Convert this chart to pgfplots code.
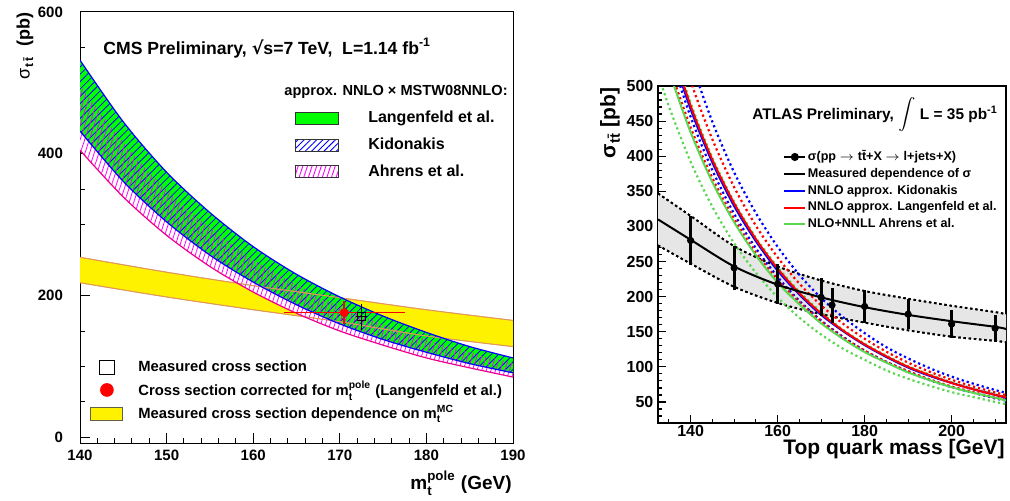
\documentclass[border=0pt]{standalone}
\usepackage{pgfplots}
\pgfplotsset{compat=1.18}
\usepgfplotslibrary{fillbetween}
\usetikzlibrary{patterns.meta}
\usepackage{amsmath}
\usepackage{fontspec}
\setmainfont{Liberation Sans}
\newfontfamily\sym{DejaVu Sans}
\definecolor{rgreen}{RGB}{0,255,0}
\definecolor{agreen}{RGB}{90,215,80}
\definecolor{yedge}{RGB}{225,150,90}
\definecolor{bandgray}{RGB}{230,230,230}
\newcommand\fsz[1]{\fontsize{#1}{#1}\selectfont}
\begin{document}
\begin{tikzpicture}

%================ LEFT PANEL =================
\begin{axis}[
 at={(40pt,28.5pt)}, anchor=south west, scale only axis,
 width=216.5pt, height=215.5pt,
 xmin=140, xmax=190, ymin=-8, ymax=600,
 xtick={140,150,...,190}, ytick={0,200,400,600},
 minor xtick={142,144,...,188}, minor ytick={50,100,150,250,300,350,450,500,550},
 xtick pos=bottom, ytick pos=left, tick align=inside,
 major tick length=5pt, minor tick length=2.5pt,
 tick style={black, line width=0.5pt},
 axis line style={line width=0.5pt},
 tick label style={font=\fsz{7.5}\bfseries},
 yticklabel style={xshift=-5pt},
 /pgf/number format/assume math mode=true,
 legend style={at={(0.023,0.197)}, anchor=north west, draw=none, fill=none,
   font=\fontsize{7.4}{8.4}\selectfont\bfseries, row sep=1.5pt, column sep=6.5pt, inner sep=0pt,
   nodes={inner sep=1pt}},
 legend cell align=left,
]
% yellow band
\addplot[name path=yU, draw=yedge, line width=0.4pt, smooth, forget plot] coordinates {(140,254)(150,233)(160,214)(170,197)(180,180)(190,165)};
\addplot[name path=yL, draw=yedge, line width=0.4pt, smooth, forget plot] coordinates {(140,218)(150,198)(160,180)(170,163)(180,143)(190,128)};
\addplot[fill=yellow, draw=none, forget plot] fill between[of=yU and yL];
\addplot[draw=yedge, line width=0.4pt, smooth, forget plot] coordinates {(140,254)(150,233)(160,214)(170,197)(180,180)(190,165)};
\addplot[draw=yedge, line width=0.4pt, smooth, forget plot] coordinates {(140,218)(150,198)(160,180)(170,163)(180,143)(190,128)};
% theory band edges
\addplot[name path=aU, draw=none, smooth, forget plot] coordinates {(140,497)(145,416)(150,349)(155,296)(160,251)(165,215)(170,185)(175,159)(180,138)(185,120)(190,105)};
\addplot[name path=aL, draw=none, smooth, forget plot] coordinates {(140,405)(145,339)(150,285)(155,241)(160,205)(165,175)(170,150)(175,130)(180,112)(185,98)(190,85)};
\addplot[name path=gU, draw=none, smooth, forget plot] coordinates {(140,532)(145,445)(150,374)(155,317)(160,269)(165,230)(170,198)(175,171)(180,148)(185,128)(190,112)};
\addplot[name path=gL, draw=none, smooth, forget plot] coordinates {(140,432)(145,361)(150,304)(155,257)(160,219)(165,187)(170,160)(175,138)(180,120)(185,104)(190,91)};
\addplot[fill=white, draw=none, forget plot] fill between[of=aU and aL];
\addplot[fill=rgreen, draw=none, forget plot] fill between[of=gU and gL];
\addplot[pattern={Lines[angle=45,distance=2.6pt,line width=0.4pt]}, pattern color=blue, draw=none, forget plot] fill between[of=gU and gL];
\addplot[pattern={Lines[angle=72,distance=2.2pt,line width=0.4pt]}, pattern color=magenta, draw=none, forget plot] fill between[of=aU and aL];
\addplot[draw=magenta, line width=0.6pt, smooth, forget plot] coordinates {(140,405)(145,339)(150,285)(155,241)(160,205)(165,175)(170,150)(175,130)(180,112)(185,98)(190,85)};
\addplot[draw=blue, line width=0.6pt, smooth, forget plot] coordinates {(140,532)(145,445)(150,374)(155,317)(160,269)(165,230)(170,198)(175,171)(180,148)(185,128)(190,112)};
\addplot[draw=blue, line width=0.6pt, smooth, forget plot] coordinates {(140,432)(145,361)(150,304)(155,257)(160,219)(165,187)(170,160)(175,138)(180,120)(185,104)(190,91)};
% data points
\addplot[red, only marks, mark=*, mark size=2pt, forget plot,
  error bars/.cd, x dir=both, x explicit, y dir=both, y explicit,
  error bar style={red, line width=0.7pt}, error mark=none]
  coordinates {(170.5,176) +- (7,16)};
\addplot[black, only marks, mark=square, mark size=2pt, line width=0.5pt, forget plot,
  error bars/.cd, x dir=both, x explicit, y dir=both, y explicit,
  error bar style={black, line width=0.5pt}, error mark=none]
  coordinates {(172.5,170) +- (0.6,18)};
% legend (bottom)
\addlegendimage{only marks, mark=square, mark size=3.6pt, black, line width=0.5pt}
\addlegendentry{Measured cross section}
\addlegendimage{only marks, mark=*, mark size=3.2pt, red}
\addlegendentry{Cross section corrected for m$^{\text{pole}}_{\text{t}}$ (Langenfeld et al.)}
\addlegendimage{legend image code/.code={\draw[fill=yellow, draw=black!70!yellow, line width=0.5pt] (0.5pt,-3.3pt) rectangle (16.5pt,3.3pt);}}
\addlegendentry{Measured cross section dependence on m$^{\text{MC}}_{\text{t}}$}
\end{axis}

% overlay axis for the upper legend
\begin{axis}[
 at={(40pt,28.5pt)}, anchor=south west, scale only axis,
 width=216.5pt, height=215.5pt,
 xmin=140, xmax=190, ymin=-8, ymax=600, hide axis,
 legend style={at={(0.4965,0.775)}, anchor=north west, draw=none, fill=none,
   font=\fontsize{8}{9}\selectfont\bfseries, row sep=4pt, inner sep=0pt,
   nodes={inner sep=1pt}},
 legend cell align=left,
]
\addplot[draw=none, forget plot] coordinates {(150,100)(160,200)};
\addlegendimage{legend image code/.code={\draw[fill=rgreen, draw=black!80, line width=0.5pt] (0pt,-3pt) rectangle (21.5pt,3pt); \path (35pt,0pt);}}
\addlegendentry{Langenfeld et al.}
\addlegendimage{legend image code/.code={\draw[pattern={Lines[angle=45,distance=2.2pt,line width=0.45pt]}, pattern color=blue, draw=black!80, line width=0.5pt] (0pt,-3pt) rectangle (21.5pt,3pt); \path (35pt,0pt);}}
\addlegendentry{Kidonakis}
\addlegendimage{legend image code/.code={\draw[pattern={Lines[angle=72,distance=2.2pt,line width=0.45pt]}, pattern color=magenta, draw=black!80, line width=0.5pt] (0pt,-3pt) rectangle (21.5pt,3pt); \path (35pt,0pt);}}
\addlegendentry{Ahrens et al.}
\end{axis}

% left panel texts
\node[anchor=west, font=\fsz{8.8}\bfseries, inner sep=0pt] at (51.5pt,226pt) {CMS Preliminary, {\sym √}s=7 TeV,\ \ L=1.14 fb$^{\text{-1}}$};
\node[anchor=west, font=\fsz{7.3}\bfseries, inner sep=0pt] at (142pt,204pt) {approx. NNLO × MSTW08NNLO:};
\node[rotate=90, font=\fsz{9}, inner sep=0pt] at (12.5pt,227pt) {σ\textsubscript{\bfseries t\,\={t}}\ \ \textbf{(pb)}};
\node[anchor=east, font=\fsz{9.5}\bfseries, inner sep=0pt] at (256pt,8.5pt) {m$^{\text{pole}}_{\text{t}}$ (GeV)};

%================ RIGHT PANEL =================
\begin{axis}[
 at={(329pt,38.5pt)}, anchor=south west, scale only axis,
 width=174pt, height=168.5pt,
 xmin=132.5, xmax=212.5, ymin=20, ymax=500,
 xtick={140,160,...,200}, ytick={50,100,...,500},
 minor xtick={135,145,150,155,165,170,175,185,190,195,205,210},
 minor ytick={30,40,...,490},
 xtick pos=bottom, ytick pos=left, tick align=inside,
 major tick length=4pt, minor tick length=2pt,
 tick style={black, line width=0.6pt},
 axis line style={line width=0.9pt},
 tick label style={font=\fsz{8}\bfseries},
 yticklabel style={xshift=1.2pt},
 xticklabel style={yshift=2.5pt},
 /pgf/number format/assume math mode=true,
 legend style={at={(0.359,0.815)}, anchor=north west, draw=none, fill=none,
   font=\fontsize{6.3}{7}\selectfont\bfseries, row sep=0.7pt, inner sep=0pt,
   nodes={inner sep=0.8pt}},
 legend cell align=left,
 legend image code/.code={\draw[mark repeat=2,mark phase=2,#1] plot coordinates {(0pt,0pt)(5.25pt,0pt)(10.5pt,0pt)};},
]
% measured band
\addplot[name path=mU, black, line width=0.9pt, dash pattern=on 1.2pt off 1.4pt, smooth, forget plot] coordinates {(132.5,347)(140,315)(150,272)(160,243)(170,223)(180,208)(190,197)(200,187)(210,178)(212.5,175)};
\addplot[name path=mL, black, line width=0.9pt, dash pattern=on 1.2pt off 1.4pt, smooth, forget plot] coordinates {(132.5,273)(140,247)(150,214)(160,191)(170,175)(180,163)(190,152)(200,143)(210,137)(212.5,135)};
\addplot[fill=bandgray, draw=none, forget plot] fill between[of=mU and mL];
\addplot[black, line width=0.9pt, dash pattern=on 1.2pt off 1.4pt, smooth, forget plot] coordinates {(132.5,347)(140,315)(150,272)(160,243)(170,223)(180,208)(190,197)(200,187)(210,178)(212.5,175)};
\addplot[black, line width=0.9pt, dash pattern=on 1.2pt off 1.4pt, smooth, forget plot] coordinates {(132.5,273)(140,247)(150,214)(160,191)(170,175)(180,163)(190,152)(200,143)(210,137)(212.5,135)};
% theory dotted
\addplot[blue, line width=1.1pt, dash pattern=on 1.1pt off 1.5pt, smooth, forget plot] coordinates {(132.5,714)(135,649)(140,538)(145,449)(150,377)(155,319)(160,271)(165,231)(170,198)(175,171)(180,148)(185,128)(190,112)(195,98)(200,86)(205,76)(210,67)(212.5,63)};
\addplot[blue, line width=1.1pt, dash pattern=on 1.1pt off 1.5pt, smooth, forget plot] coordinates {(132.5,607)(135,551)(140,456)(145,380)(150,318)(155,269)(160,228)(165,194)(170,166)(175,143)(180,123)(185,107)(190,93)(195,81)(200,71)(205,63)(210,55)(212.5,52)};
\addplot[agreen, line width=1.1pt, dash pattern=on 1.1pt off 1.5pt, smooth, forget plot] coordinates {(132.5,629)(135,572)(140,476)(145,398)(150,335)(155,284)(160,242)(165,207)(170,178)(175,153)(180,133)(185,116)(190,101)(195,89)(200,78)(205,69)(210,61)(212.5,57)};
\addplot[agreen, line width=1.1pt, dash pattern=on 1.1pt off 1.5pt, smooth, forget plot] coordinates {(132.5,518)(135,471)(140,392)(145,328)(150,276)(155,234)(160,199)(165,170)(170,146)(175,126)(180,110)(185,95)(190,83)(195,73)(200,64)(205,57)(210,50)(212.5,47)};
\addplot[red, line width=1.1pt, dash pattern=on 1.1pt off 1.5pt, smooth, forget plot] coordinates {(132.5,672)(135,610)(140,507)(145,424)(150,356)(155,301)(160,256)(165,218.5)(170,187.5)(175,161.6)(180,140)(185,121.6)(190,106)(195,92.9)(200,81.6)(205,71.9)(210,63.6)(212.5,59.8)};
\addplot[red, line width=1.1pt, dash pattern=on 1.1pt off 1.5pt, smooth, forget plot] coordinates {(132.5,583)(135,530)(140,441)(145,369)(150,311)(155,263)(160,224)(165,192)(170,165)(175,142)(180,123)(185,107)(190,94)(195,82)(200,72)(205,64)(210,56)(212.5,53)};
% theory solid
\addplot[agreen, line width=1pt, smooth, forget plot] coordinates {(132.5,574)(135,522)(140,434)(145,363)(150,306)(155,259)(160,220)(165,189)(170,162)(175,140)(180,121)(185,106)(190,92)(195,81)(200,71)(205,63)(210,56)(212.5,52)};
\addplot[blue, line width=1pt, smooth, forget plot] coordinates {(132.5,617)(135,561)(140,467)(145,391)(150,329)(155,279)(160,237)(165,203)(170,174)(175,151)(180,131)(185,114)(190,99)(195,87)(200,77)(205,68)(210,60)(212.5,56)};
\addplot[red, line width=1pt, smooth, forget plot] coordinates {(132.5,624)(135,568)(140,472)(145,395)(150,333)(155,282)(160,240)(165,205)(170,176)(175,152)(180,132)(185,115)(190,100)(195,88)(200,77)(205,68)(210,60)(212.5,57)};
% measured central
\addplot[black, line width=1pt, smooth, forget plot] coordinates {(132.5,310)(140,281)(150,243)(160,217)(170,199)(180,185)(190,174)(200,165)(210,157)(212.5,154)};
% points
\addplot[black, only marks, mark=*, mark size=1.6pt, forget plot,
  error bars/.cd, y dir=both, y explicit, error bar style={black, line width=1.5pt}, error mark=none]
  coordinates {(140,280) +- (0,35) (150,241) +- (0,31) (160,218) +- (0,29) (170,199) +- (0,27) (172.5,188) +- (0,25) (180,186) +- (0,24) (190,175) +- (0,21) (200,161) +- (0,20) (210,155) +- (0,19)};
% legend
\addlegendimage{black, line width=1pt, mark=*, mark size=1.5pt}
\addlegendentry{σ(pp $\rightarrow$ t\={t}+X $\rightarrow$ l+jets+X)}
\addlegendimage{black, line width=1pt}
\addlegendentry{Measured dependence of σ}
\addlegendimage{blue, line width=1pt}
\addlegendentry{NNLO approx. Kidonakis}
\addlegendimage{red, line width=1pt}
\addlegendentry{NNLO approx. Langenfeld et al.}
\addlegendimage{agreen, line width=1pt}
\addlegendentry{NLO+NNLL Ahrens et al.}
\end{axis}

% right panel texts
\node[anchor=west, font=\fsz{7.7}\bfseries, inner sep=0pt] at (376pt,192.5pt) {ATLAS Preliminary, $\displaystyle\int$ L = 35 pb$^{\text{-1}}$};
\node[rotate=90, anchor=east, font=\fsz{10.5}\bfseries, inner sep=0pt] at (305pt,206.5pt) {σ\textsubscript{t\={t}} [pb]};
\node[anchor=east, font=\fsz{10.5}\bfseries, inner sep=0pt] at (502.5pt,25.5pt) {Top quark mass [GeV]};
\pgfresetboundingbox
\path[use as bounding box] (0,0) rectangle (505pt,250pt);
\end{tikzpicture}
\end{document}
